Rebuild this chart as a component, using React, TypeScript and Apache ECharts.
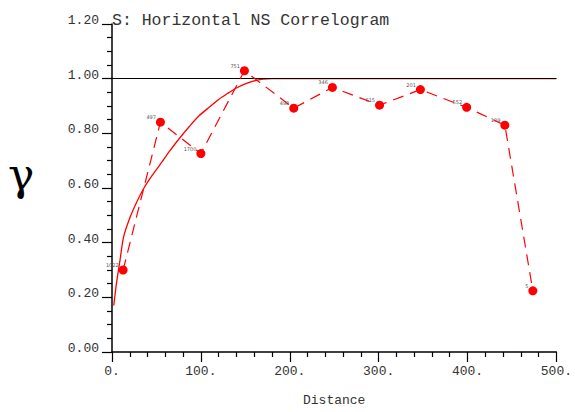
import React, { useEffect, useRef } from "react";
import * as echarts from "echarts";

const lagDistance = [12.5, 54.5, 100, 149, 204.5, 248, 301, 347, 399, 442, 473.5];
const gammaValues = [0.3, 0.841, 0.726, 1.029, 0.892, 0.968, 0.903, 0.96, 0.895, 0.83, 0.224];
const pairCounts = ["1022", "497", "1700", "751", "498", "346", "615", "201", "552", "109", "5"];

const modelDistance = [2, 5, 9, 13, 20, 28, 36, 45, 55, 65, 76, 87, 98, 110, 120, 130, 140, 150, 160, 170, 180, 500];
const modelGamma = [0.17, 0.25, 0.335, 0.42, 0.49, 0.55, 0.6, 0.645, 0.69, 0.736, 0.782, 0.825, 0.864, 0.897, 0.924, 0.946, 0.966, 0.981, 0.992, 0.998, 1.0, 1.0];

const xTicks = [0, 100, 200, 300, 400, 500];
const yTickLabels = ["0.00", "0.20", "0.40", "0.60", "0.80", "1.00", "1.20"];

const MONO = "'Liberation Mono', 'DejaVu Sans Mono', monospace";

export default function App() {
  const ref = useRef<HTMLDivElement>(null);
  useEffect(() => {
    if (!ref.current) return;
    const chart = echarts.init(ref.current, null, { renderer: "svg" });
    const expData = lagDistance.map((x, i) => [x, gammaValues[i]]);
    const modelData = modelDistance.map((x, i) => [x, modelGamma[i]]);
    chart.setOption({
      animation: false,
      backgroundColor: "#ffffff",
      title: {
        text: "S: Horizontal NS Correlogram",
        left: 107,
        top: 7,
        textStyle: { fontFamily: MONO, fontSize: 16.5, fontWeight: "normal", color: "#333" },
      },
      grid: { left: 112, right: 13, top: 24, bottom: 56 },
      graphic: [
        {
          type: "text",
          left: 8,
          top: 152,
          style: {
            text: "γ",
            fontFamily: "'DejaVu Serif', serif",
            fontSize: 44,
            fill: "#000",
          },
        },
      ],
      xAxis: {
        type: "value",
        min: xTicks[0],
        max: xTicks[xTicks.length - 1],
        interval: 100,
        name: "Distance",
        nameLocation: "middle",
        nameGap: 42,
        nameTextStyle: { fontFamily: MONO, fontSize: 13, color: "#333" },
        axisLine: { show: true, onZero: false, lineStyle: { color: "#000", width: 1.5 } },
        axisTick: { show: true, inside: false, length: 10, lineStyle: { color: "#000", width: 1.2 } },
        minorTick: { show: true, splitNumber: 5, length: 5, lineStyle: { color: "#000", width: 1.2 } },
        splitLine: { show: false },
        axisLabel: {
          fontFamily: MONO,
          fontSize: 13,
          color: "#333",
          margin: 13,
          formatter: (v: number) => `${v}.`,
        },
      },
      yAxis: {
        type: "value",
        min: 0,
        max: 1.2,
        interval: 0.2,
        axisLine: { show: true, onZero: false, lineStyle: { color: "#000", width: 1.5 } },
        axisTick: { show: true, inside: false, length: 10, lineStyle: { color: "#000", width: 1.2 } },
        minorTick: { show: true, splitNumber: 4, length: 5, lineStyle: { color: "#000", width: 1.2 } },
        splitLine: { show: false },
        axisLabel: {
          fontFamily: MONO,
          fontSize: 13,
          color: "#333",
          margin: 13,
          verticalAlign: "bottom",
          padding: [0, 0, -3, 0],
          formatter: (v: number) => yTickLabels[Math.round(v / 0.2)] ?? v.toFixed(2),
        },
      },
      series: [
        {
          type: "line",
          data: modelData,
          showSymbol: false,
          smooth: 0.3,
          lineStyle: { color: "#ff0000", width: 1.3 },
          z: 2,
          silent: true,
          markLine: {
            silent: true,
            symbol: "none",
            label: { show: false },
            lineStyle: { color: "#000", width: 1, type: "solid" },
            data: [{ yAxis: 1 }],
            z: 3,
          },
        },
        {
          type: "line",
          data: expData,
          symbol: "circle",
          symbolSize: 9,
          itemStyle: { color: "#ff0000" },
          lineStyle: { color: "#ff0000", width: 1.2, type: [11, 7] },
          z: 4,
          label: {
            show: true,
            position: "left",
            distance: 0,
            offset: [0, -5],
            fontFamily: "'DejaVu Sans', sans-serif",
            fontSize: 5,
            color: "#555",
            formatter: (p: any) => pairCounts[p.dataIndex],
          },
        },
      ],
    });
    return () => chart.dispose();
  }, []);
  return (
    <div
      ref={ref}
      style={{ position: "fixed", left: 0, top: 0, width: 575, height: 412 }}
    />
  );
}
